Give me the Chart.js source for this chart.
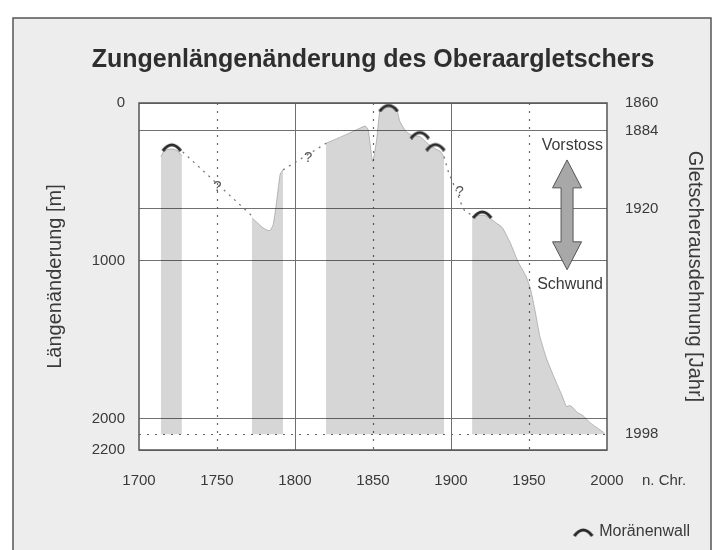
<!DOCTYPE html>
<html>
<head>
<meta charset="utf-8">
<script src="https://cdn.jsdelivr.net/npm/chart.js@4.4.1/dist/chart.umd.min.js"></script>
<style>
  html, body { margin: 0; padding: 0; background: #fff; }
  canvas { display: block; }
</style>
</head>
<body>
<canvas id="chart" width="724" height="550"></canvas>
<script>
// --- data (x = year, y = length change in m) ---
const band1Years   = [1714, 1716, 1719, 1722, 1725, 1727.5];
const band1Lengths = [340, 305, 292, 292, 305, 335];

const band2Years   = [1772.4, 1776, 1779, 1782, 1784, 1786, 1788, 1789.5, 1790.5, 1792.3];
const band2Lengths = [728, 760, 788, 805, 808, 770, 640, 520, 450, 424];

const band3Years   = [1819.9, 1827, 1835, 1845, 1847, 1849.8, 1852.3, 1854.5, 1857, 1860, 1863, 1865, 1867.3, 1871.2, 1875, 1880, 1885.5, 1890, 1893, 1895.5];
const band3Lengths = [255, 225, 190, 146, 171, 371, 234, 40, 28, 25, 25, 30, 118, 181, 205, 212, 260, 290, 305, 340];

const band4Years   = [1913.5, 1916, 1918, 1920, 1922, 1925, 1929, 1933, 1938, 1943, 1948, 1951, 1954, 1957, 1961.5, 1966.7, 1971, 1974, 1976, 1978, 1981, 1984.6, 1989, 1993, 1997, 1998.5];
const band4Lengths = [720, 716, 712, 710, 714, 730, 760, 791, 886, 1006, 1095, 1180, 1320, 1480, 1627, 1753, 1850, 1924, 1918, 1930, 1962, 1981, 2025, 2055, 2082, 2095];

const gap1Years   = [1728, 1774];
const gap1Lengths = [310, 730];
const gap2Years   = [1792.3, 1820];
const gap2Lengths = [424, 255];
const gap3Years   = [1895.5, 1898.3, 1900.4, 1904, 1906.8, 1909, 1913.5];
const gap3Lengths = [340, 435, 487, 570, 646, 688, 710];

const moraineYears   = [1721, 1860, 1880, 1890, 1920];
const moraineLengths = [278, 28, 200, 276, 703];

const questionYears   = [1750.2, 1808.5, 1905.6];
const questionLengths = [530, 345, 566];

const baseLength = 2100;                       // 1998 line
const leftTickLengths = [0, 1000, 2000, 2200];
const gridLengths = [0, 177, 671, 1000, 2000, 2200];
const rightTickLengths = [0, 177, 671, 2100];
const rightTickYears = ['1860', '1884', '1920', '1998'];
const solidYears = [1800, 1900];
const dottedYears = [1750, 1850, 1950];

const textColor = '#3a3a3a';
const bandFill = 'rgba(0,0,0,0.16)';

Chart.defaults.font.family = "'Liberation Sans', Arial, sans-serif";
Chart.defaults.color = textColor;

function pts(xs, ys) {
    return xs.map((x, i) => ({ x: x, y: ys[i] }));
}

// moraine symbol
function makeArch() {
    let c = document.createElement('canvas');
    c.width = 22; c.height = 10;
    let g = c.getContext('2d');
    g.strokeStyle = '#2a2a2a';
    g.lineWidth = 3;
    g.beginPath();
    g.moveTo(2, 9);
    g.quadraticCurveTo(11, -3, 20, 9);
    g.stroke();
    return c;
}
const arch = makeArch();

function band(xs, ys) {
    return {
        data: pts(xs, ys),
        fill: { value: baseLength },
        backgroundColor: bandFill,
        borderColor: 'rgba(0,0,0,0.22)',
        borderWidth: 1,
        pointRadius: 0,
        tension: 0.15
    };
}

function gap(xs, ys) {
    return {
        data: pts(xs, ys),
        fill: false,
        borderColor: '#777',
        borderWidth: 1.3,
        borderDash: [2, 5],
        pointRadius: 0
    };
}

// extra drawing: paper frame, dotted guides, arrow and notes
const decor = {
    id: 'decor',
    beforeDraw(chart) {
        let { ctx, chartArea: a } = chart;
        ctx.save();
        ctx.fillStyle = '#fff';
        ctx.fillRect(0, 0, chart.width, chart.height);
        ctx.fillStyle = '#ededed';
        ctx.fillRect(13, 18, 698, 545);
        ctx.strokeStyle = '#555';
        ctx.lineWidth = 1.5;
        ctx.strokeRect(13, 18, 698, 545);
        ctx.fillStyle = '#fff';
        ctx.fillRect(a.left, a.top, a.right - a.left, a.bottom - a.top);
        ctx.restore();
    },
    beforeDatasetsDraw(chart) {
        let { ctx, chartArea: a, scales } = chart;
        ctx.save();
        ctx.strokeStyle = '#666';
        ctx.lineWidth = 1.2;
        ctx.setLineDash([2, 6]);
        dottedYears.forEach(yr => {
            let x = Math.round(scales.x.getPixelForValue(yr)) + 0.5;
            ctx.beginPath();
            ctx.moveTo(x, a.top);
            ctx.lineTo(x, a.bottom);
            ctx.stroke();
        });
        let y = Math.round(scales.y.getPixelForValue(baseLength)) + 0.5;
        ctx.beginPath();
        ctx.moveTo(a.left, y);
        ctx.lineTo(a.right, y);
        ctx.stroke();
        ctx.restore();
    },
    afterDatasetsDraw(chart) {
        let { ctx, chartArea: a, scales } = chart;
        let xs = scales.x, ys = scales.y;
        ctx.save();
        // plot frame
        ctx.strokeStyle = '#555';
        ctx.lineWidth = 1.5;
        ctx.strokeRect(a.left, a.top, a.right - a.left, a.bottom - a.top);

        // question marks
        ctx.fillStyle = '#555';
        ctx.font = "15px 'Liberation Sans', Arial, sans-serif";
        ctx.textAlign = 'center';
        ctx.textBaseline = 'middle';
        questionYears.forEach((yr, i) => {
            ctx.fillText('?', xs.getPixelForValue(yr), ys.getPixelForValue(questionLengths[i]));
        });

        // Vorstoss / Schwund arrow
        let ax = xs.getPixelForValue(1974.4);
        let yTop = ys.getPixelForValue(361), yHead1 = ys.getPixelForValue(538);
        let yHead2 = ys.getPixelForValue(880), yBot = ys.getPixelForValue(1057);
        let hw = 14.5, sw = 6;
        ctx.beginPath();
        ctx.moveTo(ax, yTop);
        ctx.lineTo(ax + hw, yHead1);
        ctx.lineTo(ax + sw, yHead1);
        ctx.lineTo(ax + sw, yHead2);
        ctx.lineTo(ax + hw, yHead2);
        ctx.lineTo(ax, yBot);
        ctx.lineTo(ax - hw, yHead2);
        ctx.lineTo(ax - sw, yHead2);
        ctx.lineTo(ax - sw, yHead1);
        ctx.lineTo(ax - hw, yHead1);
        ctx.closePath();
        ctx.fillStyle = '#a8a8a8';
        ctx.fill();
        ctx.strokeStyle = '#555';
        ctx.lineWidth = 1;
        ctx.stroke();

        ctx.fillStyle = textColor;
        ctx.font = "16px 'Liberation Sans', Arial, sans-serif";
        ctx.textAlign = 'right';
        ctx.fillText('Vorstoss', a.right - 4, ys.getPixelForValue(272));
        ctx.fillText('Schwund', a.right - 4, ys.getPixelForValue(1152));

        // era label next to the last year tick
        ctx.font = "15px 'Liberation Sans', Arial, sans-serif";
        ctx.textAlign = 'left';
        ctx.fillText('n. Chr.', xs.getPixelForValue(2000) + 35, xs.top + 31);
        ctx.restore();
    }
};

new Chart(document.getElementById('chart'), {
    type: 'line',
    data: {
        datasets: [
            {
                label: 'Moränenwall',
                data: pts(moraineYears, moraineLengths),
                showLine: false,
                pointStyle: arch,
                pointRadius: 8,
                clip: false
            },
            band(band1Years, band1Lengths),
            band(band2Years, band2Lengths),
            band(band3Years, band3Lengths),
            band(band4Years, band4Lengths),
            gap(gap1Years, gap1Lengths),
            gap(gap2Years, gap2Lengths),
            gap(gap3Years, gap3Lengths)
        ]
    },
    options: {
        responsive: false,
        animation: false,
        events: [],
        layout: { padding: { left: 46, right: 24, top: 0, bottom: 0 } },
        plugins: {
            title: {
                display: true,
                text: 'Zungenlängenänderung des Oberaargletschers',
                color: '#2e2e2e',
                font: { size: 25, weight: 'bold' },
                padding: { top: 45, bottom: 28 }
            },
            legend: {
                position: 'bottom',
                align: 'end',
                labels: {
                    usePointStyle: true,
                    font: { size: 16 },
                    color: textColor,
                    padding: 10,
                    filter: item => item.datasetIndex === 0
                }
            },
            tooltip: { enabled: false }
        },
        scales: {
            x: {
                type: 'linear',
                min: 1700,
                max: 2000,
                afterBuildTicks: s => { s.ticks = [1700, 1750, 1800, 1850, 1900, 1950, 2000].map(v => ({ value: v })); },
                afterFit: s => { s.height = 64; },
                ticks: {
                    padding: 22,
                    font: { size: 15 },
                    color: textColor,
                    callback: v => String(v)
                },
                grid: {
                    drawTicks: false,
                    color: c => solidYears.includes(c.tick && c.tick.value) ? '#707070' : 'rgba(0,0,0,0)',
                    lineWidth: 1
                },
                border: { display: false }
            },
            y: {
                type: 'linear',
                reverse: true,
                min: 0,
                max: 2200,
                afterBuildTicks: s => { s.ticks = gridLengths.map(v => ({ value: v })); },
                afterFit: s => { s.width = 93; },
                ticks: {
                    autoSkip: false,
                    padding: 14,
                    font: { size: 15 },
                    color: textColor,
                    callback: v => leftTickLengths.includes(v) ? String(v) : ''
                },
                grid: { drawTicks: false, color: '#707070', lineWidth: 1 },
                border: { display: false },
                title: {
                    display: true,
                    text: 'Längenänderung [m]',
                    font: { size: 20 },
                    color: textColor,
                    padding: { top: -3 }
                }
            },
            y2: {
                type: 'linear',
                position: 'right',
                reverse: true,
                min: 0,
                max: 2200,
                afterBuildTicks: s => { s.ticks = rightTickLengths.map(v => ({ value: v })); },
                afterFit: s => { s.width = 93; },
                ticks: {
                    autoSkip: false,
                    padding: 18,
                    font: { size: 15 },
                    color: textColor,
                    callback: v => rightTickYears[rightTickLengths.indexOf(v)]
                },
                grid: { drawOnChartArea: false, drawTicks: false },
                border: { display: false },
                title: {
                    display: true,
                    text: 'Gletscherausdehnung [Jahr]',
                    font: { size: 20 },
                    color: textColor,
                    padding: { top: -7 }
                }
            }
        }
    },
    plugins: [decor]
});
</script>
</body>
</html>
